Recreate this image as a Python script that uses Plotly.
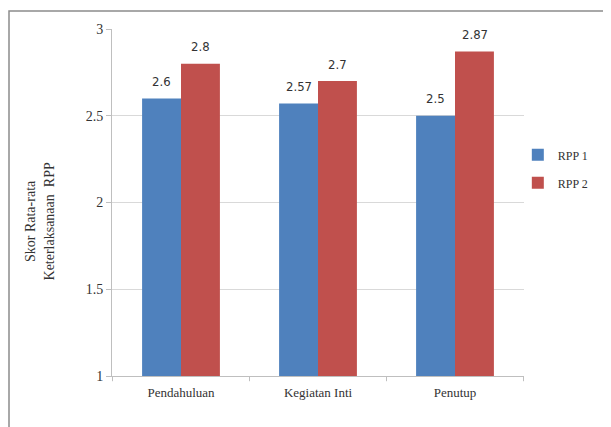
import plotly.graph_objects as go

categories = ["Pendahuluan", "Kegiatan Inti", "Penutup"]
rpp1 = [2.6, 2.57, 2.5]
rpp2 = [2.8, 2.7, 2.87]
series_names = ["RPP 1", "RPP 2"]
colors = ["#4F81BD", "#C0504D"]
y_ticks = [1, 1.5, 2, 2.5, 3]
y_tick_text = ["1", "1.5", "2", "2.5", "3"]

num_font = "Liberation Sans Narrow, DejaVu Sans Condensed, Arial"
serif = "Liberation Serif, Times New Roman, serif"

fig = go.Figure()
annotations = []
for k, (name, vals, col) in enumerate(zip(series_names, [rpp1, rpp2], colors)):
    fig.add_trace(go.Bar(
        x=categories, y=vals, name=name, marker_color=col, marker_line_width=0,
        legendgroup=name, offsetgroup=str(k),
    ))
    for c, v in zip(categories, vals):
        annotations.append(dict(
            x=c, y=v, xref="x", yref="y", text=f"{v:g}", showarrow=False,
            xshift=(-19.5 if k == 0 else 19.5), yshift=17, yanchor="middle",
            font=dict(family=num_font, size=13, color="#333"),
        ))

annotations.append(dict(
    x=-0.175, y=0.445, xref="paper", yref="paper", textangle=-90, showarrow=False,
    text="Skor Rata-rata<br>Keterlaksanaan  RPP", xanchor="center", yanchor="middle",
    font=dict(family=serif, size=14, color="#333"),
))

fig.update_layout(
    width=611, height=427,
    margin=dict(l=104, r=95, t=21, b=59),
    paper_bgcolor="white", plot_bgcolor="white",
    barmode="group", bargap=0.432, bargroupgap=0,
    showlegend=True,
    legend=dict(x=0.985, y=0.597, xanchor="left", yanchor="middle",
                traceorder="grouped", tracegroupgap=9,
                font=dict(family=serif, size=12, color="#333"),
                itemwidth=30, bgcolor="rgba(0,0,0,0)"),
    xaxis=dict(showline=True, linecolor="#BFBFBF", ticks="", ticklabelstandoff=4,
               tickfont=dict(family=serif, size=13, color="#333")),
    yaxis=dict(range=[1, 3], tickvals=y_ticks, ticktext=y_tick_text,
               showgrid=True, gridcolor="#D9D9D9", showline=True, linecolor="#BFBFBF",
               ticks="outside", ticklen=5, tickcolor="#BFBFBF",
               tickfont=dict(family=serif, size=14, color="#333")),
    annotations=annotations,
    shapes=[
        dict(type="rect", xref="paper", yref="paper", x0=-0.25, x1=1.4, y0=-0.3, y1=1.052,
             line=dict(color="#8C8C8C", width=1.5), fillcolor="rgba(0,0,0,0)"),
    ] + [
        dict(type="line", xref="x", yref="paper", x0=i - 0.5, x1=i - 0.5, y0=0, y1=-0.015,
             line=dict(color="#BFBFBF", width=1)) for i in range(4)
    ],
)

fig.write_html("out.html")
